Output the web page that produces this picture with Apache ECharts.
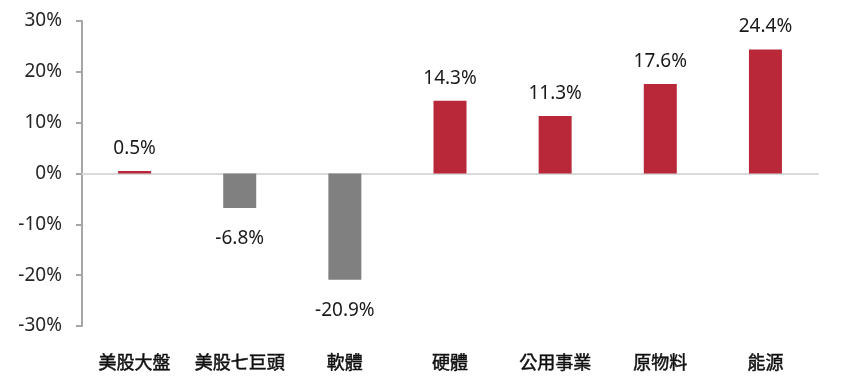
<!DOCTYPE html>
<html>
<head>
<meta charset="utf-8">
<script src="https://cdn.jsdelivr.net/npm/echarts@6/dist/echarts.min.js"></script>
<style>html,body{margin:0;padding:0;background:#fff}#c{width:848px;height:380px}</style>
</head>
<body>
<div id="c"></div>
<script>
var categories = ['美股大盤', '美股七巨頭', '軟體', '硬體', '公用事業', '原物料', '能源'];
var values = [0.5, -6.8, -20.9, 14.3, 11.3, 17.6, 24.4];
var yTicks = [-30, -20, -10, 0, 10, 20, 30];

var posColor = '#B82838';
var negColor = '#808080';

var chart = echarts.init(document.getElementById('c'));
chart.setOption({
  animation: false,
  backgroundColor: '#fff',
  grid: { left: 82, right: 30, top: 21, bottom: 54, containLabel: false },
  xAxis: [{
    type: 'category',
    data: categories,
    position: 'bottom',
    axisLine: { show: false, onZero: false },
    axisTick: { show: false },
    axisLabel: {
      interval: 0,
      margin: 27,
      fontSize: 18,
      fontWeight: 'normal',
      color: '#111',
      textBorderColor: '#111',
      textBorderWidth: 0.5,
      fontFamily: '"Noto Sans CJK TC", "Noto Sans CJK SC", sans-serif'
    }
  }, {
    type: 'category',
    data: categories,
    position: 'bottom',
    axisLine: { show: true, onZero: true, lineStyle: { color: '#d9d9d9', width: 2 } },
    axisTick: { show: false },
    axisLabel: { show: false }
  }],
  yAxis: {
    type: 'value',
    min: yTicks[0],
    max: yTicks[yTicks.length - 1],
    interval: 10,
    axisLine: { show: true, lineStyle: { color: '#a6a6a6', width: 2 } },
    axisTick: { show: true, inside: false, length: 6, lineStyle: { color: '#a6a6a6', width: 2 } },
    splitLine: { show: false },
    axisLabel: {
      margin: 20,
      fontSize: 19,
      color: '#262626',
      fontFamily: '"Noto Sans", sans-serif',
      formatter: function (v) { return v + '%'; }
    }
  },
  series: [{
    type: 'bar',
    xAxisIndex: 0,
    barWidth: 33,
    data: values.map(function (v) {
      return {
        value: v,
        itemStyle: { color: v >= 0 ? posColor : negColor },
        label: { position: v >= 0 ? 'top' : 'bottom', distance: v >= 0 ? 13 : 21 }
      };
    }),
    label: {
      show: true,
      fontSize: 19,
      color: '#1a1a1a',
      fontFamily: '"Noto Sans", sans-serif',
      formatter: function (p) { return p.value.toFixed(1) + '%'; }
    }
  }]
});
</script>
</body>
</html>
